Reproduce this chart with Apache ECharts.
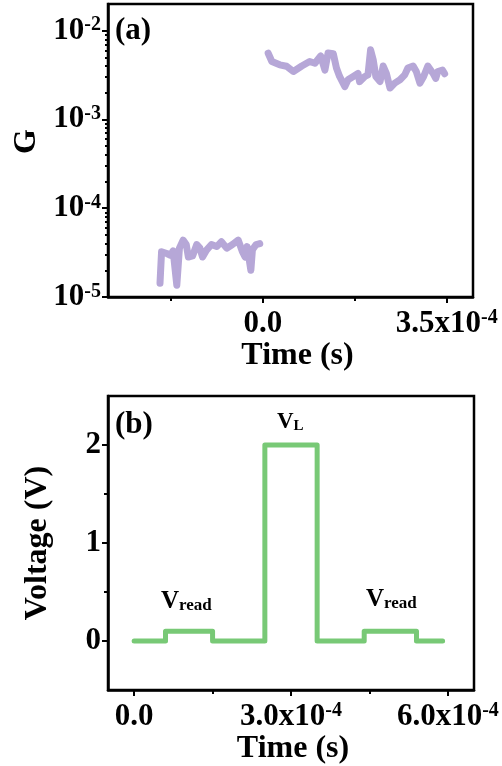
<!DOCTYPE html>
<html>
<head>
<meta charset="utf-8">
<script src="https://cdn.jsdelivr.net/npm/echarts@6/dist/echarts.min.js"></script>
<style>
  html, body { margin: 0; padding: 0; background: #fff; }
  #chart { width: 502px; height: 766px; }
</style>
</head>
<body>
<div id="chart"></div>
<script>
// Panel (a): conductance G versus time, before (t < 0) and after (t > 0) the pulse
const timeBefore = [-1.96e-4, -1.93e-4, -1.83e-4, -1.76e-4, -1.71e-4, -1.64e-4, -1.59e-4, -1.52e-4, -1.46e-4, -1.42e-4,
  -1.34e-4, -1.26e-4, -1.20e-4, -1.15e-4, -1.07e-4, -0.98e-4, -0.88e-4, -0.79e-4, -0.69e-4, -0.58e-4,
  -0.47e-4, -0.39e-4, -0.34e-4, -0.30e-4, -0.23e-4, -0.20e-4, -0.13e-4, -0.06e-4];
const gBefore = [1.43e-5, 3.24e-5, 3.09e-5, 2.95e-5, 3.31e-5, 1.36e-5, 3.55e-5, 4.37e-5, 3.9e-5, 2.82e-5,
  2.9e-5, 3.9e-5, 3.55e-5, 2.82e-5, 3.4e-5, 3.9e-5, 3.7e-5, 4.2e-5, 3.55e-5, 3.9e-5,
  4.37e-5, 3.24e-5, 2.82e-5, 3.7e-5, 2.0e-5, 3.4e-5, 3.9e-5, 4.0e-5];

const timeAfter = [0.10e-4, 0.17e-4, 0.32e-4, 0.45e-4, 0.58e-4, 0.74e-4, 0.89e-4, 0.99e-4, 1.10e-4, 1.18e-4,
  1.24e-4, 1.34e-4, 1.40e-4, 1.46e-4, 1.56e-4, 1.62e-4, 1.72e-4, 1.81e-4, 1.84e-4, 1.94e-4,
  2.00e-4, 2.05e-4, 2.10e-4, 2.15e-4, 2.23e-4, 2.29e-4, 2.35e-4, 2.42e-4, 2.51e-4, 2.61e-4,
  2.70e-4, 2.76e-4, 2.86e-4, 2.92e-4, 2.99e-4, 3.06e-4, 3.14e-4, 3.24e-4, 3.29e-4, 3.33e-4,
  3.42e-4, 3.46e-4];
const gAfter = [5.58e-3, 4.5e-3, 4.13e-3, 3.98e-3, 3.47e-3, 4.0e-3, 4.5e-3, 4.3e-3, 5.2e-3, 3.6e-3,
  5.6e-3, 5.5e-3, 3.8e-3, 3.05e-3, 2.35e-3, 2.8e-3, 3.05e-3, 3.3e-3, 2.67e-3, 3.05e-3,
  3.18e-3, 6.1e-3, 4.7e-3, 3.05e-3, 2.67e-3, 4.0e-3, 3.3e-3, 2.26e-3, 2.57e-3, 2.8e-3,
  3.18e-3, 3.8e-3, 4.0e-3, 3.47e-3, 2.57e-3, 3.05e-3, 4.0e-3, 3.3e-3, 2.9e-3, 3.47e-3,
  3.6e-3, 3.27e-3];

const timeTicksA = [-1.75e-4, 0, 1.75e-4, 3.5e-4];
const timeLabelsA = [0, 3.5e-4];
const gLabels = [1e-5, 1e-4, 1e-3, 1e-2];
const gMinorSteps = [2, 3, 4, 5, 6, 7, 8, 9];

// Panel (b): applied voltage pulse sequence (level holds until the next time)
const pulseTime = [0, 0.6e-4, 1.5e-4, 2.5e-4, 3.5e-4, 4.4e-4, 5.4e-4, 5.9e-4];
const pulseVolt = [0, 0.1, 0, 2, 0, 0.1, 0, 0];

const timeTicksB = [0, 1.5e-4, 3.0e-4, 4.5e-4, 6.0e-4];
const timeLabelsB = [0, 3.0e-4, 6.0e-4];
const voltLabels = [0, 1, 2];
const voltMinor = [0.5, 1.5];

const FONT = 'Liberation Serif';
const PURPLE = '#b6a7d7';
const GREEN = '#78c976';

const zip = (xs, ys) => xs.map((x, i) => [x, ys[i]]);
const majorOf = (all, labelled) => all.filter(v => labelled.indexOf(v) >= 0);
const minorOf = (all, labelled) => all.filter(v => labelled.indexOf(v) < 0);
// minor log ticks: 2..9 within every labelled decade below the top one
const gMinor = [];
gLabels.slice(0, -1).forEach(d => gMinorSteps.forEach(k => gMinor.push(k * d)));

function sciLabel(v) {
  if (v === 0) return '0.0';
  const exp = Math.floor(Math.log10(Math.abs(v)) + 1e-9);
  const m = v / Math.pow(10, exp);
  return m.toFixed(1) + 'x10{sup|' + exp + '}';
}
function powLabel(v) {
  return '10{sup|' + Math.round(Math.log10(v)) + '}';
}

const labelText = { color: '#000', fontFamily: FONT, fontWeight: 'bold', fontSize: 31 };
const supStyle = { fontFamily: FONT, fontWeight: 'bold', fontSize: 20, color: '#000', verticalAlign: 'top', lineHeight: 20 };
const axisLineStyle = { show: true, onZero: false, lineStyle: { color: '#000', width: 2.5 } };
const hiddenLine = { show: false, onZero: false };
const nameStyle = { color: '#000', fontFamily: FONT, fontWeight: 'bold', fontSize: 32 };
const minorTickStyle = { show: true, length: 4, lineStyle: { color: '#000', width: 2 } };

const chart = echarts.init(document.getElementById('chart'), null, { renderer: 'canvas' });

chart.setOption({
  animation: false,
  backgroundColor: '#fff',
  grid: [
    { left: 108, right: 29, top: 4, height: 293, show: true, borderColor: '#000', borderWidth: 2.5, containLabel: false },
    { left: 108, right: 28, top: 396, height: 294, show: true, borderColor: '#000', borderWidth: 2.5, containLabel: false }
  ],
  xAxis: [
    {
      gridIndex: 0, type: 'value', position: 'bottom', min: -2.95e-4, max: 4.0e-4,
      axisLine: axisLineStyle,
      axisTick: { show: true, customValues: majorOf(timeTicksA, timeLabelsA), length: 6, lineStyle: { color: '#000', width: 2 } },
      axisLabel: Object.assign({ customValues: timeLabelsA, margin: 11, formatter: sciLabel, rich: { sup: supStyle } }, labelText),
      splitLine: { show: false },
      name: 'Time (s)', nameLocation: 'middle', nameGap: 43,
      nameTextStyle: Object.assign({ padding: [0, 0, 0, 14] }, nameStyle)
    },
    {
      gridIndex: 0, type: 'value', position: 'bottom', min: -2.95e-4, max: 4.0e-4,
      axisLine: hiddenLine,
      axisTick: Object.assign({ customValues: minorOf(timeTicksA, timeLabelsA) }, minorTickStyle),
      axisLabel: { show: false }, splitLine: { show: false }
    },
    {
      gridIndex: 1, type: 'value', position: 'bottom', min: -0.5e-4, max: 6.5e-4,
      axisLine: axisLineStyle,
      axisTick: { show: true, customValues: majorOf(timeTicksB, timeLabelsB), length: 6, lineStyle: { color: '#000', width: 2 } },
      axisLabel: Object.assign({ customValues: timeLabelsB, margin: 11, formatter: sciLabel, rich: { sup: supStyle } }, labelText),
      splitLine: { show: false },
      name: 'Time (s)', nameLocation: 'middle', nameGap: 37,
      nameTextStyle: Object.assign({ padding: [0, 0, 0, 4] }, nameStyle)
    },
    {
      gridIndex: 1, type: 'value', position: 'bottom', min: -0.5e-4, max: 6.5e-4,
      axisLine: hiddenLine,
      axisTick: Object.assign({ customValues: minorOf(timeTicksB, timeLabelsB) }, minorTickStyle),
      axisLabel: { show: false }, splitLine: { show: false }
    }
  ],
  yAxis: [
    {
      gridIndex: 0, type: 'log', position: 'left', min: 1e-5, max: 0.02,
      axisLine: axisLineStyle,
      axisTick: { show: true, customValues: gLabels, length: 6, lineStyle: { color: '#000', width: 2 } },
      axisLabel: Object.assign({ customValues: gLabels, margin: 7, formatter: powLabel, rich: { sup: supStyle } }, labelText),
      splitLine: { show: false },
      name: 'G', nameLocation: 'middle', nameGap: 64, nameRotate: 90,
      nameTextStyle: Object.assign({ padding: [0, 0, 0, 18] }, nameStyle)
    },
    {
      gridIndex: 0, type: 'log', position: 'left', min: 1e-5, max: 0.02,
      axisLine: hiddenLine,
      axisTick: { show: true, customValues: gMinor, length: 3, lineStyle: { color: '#000', width: 2 } },
      axisLabel: { show: false }, splitLine: { show: false }
    },
    {
      gridIndex: 1, type: 'value', position: 'left', min: -0.5, max: 2.5,
      axisLine: axisLineStyle,
      axisTick: { show: true, customValues: voltLabels, length: 6, lineStyle: { color: '#000', width: 2 } },
      axisLabel: Object.assign({ customValues: voltLabels, margin: 7 }, labelText),
      splitLine: { show: false },
      name: 'Voltage (V)', nameLocation: 'middle', nameGap: 54, nameRotate: 90,
      nameTextStyle: nameStyle
    },
    {
      gridIndex: 1, type: 'value', position: 'left', min: -0.5, max: 2.5,
      axisLine: hiddenLine,
      axisTick: Object.assign({ customValues: voltMinor }, minorTickStyle),
      axisLabel: { show: false }, splitLine: { show: false }
    }
  ],
  series: [
    {
      type: 'line', xAxisIndex: 0, yAxisIndex: 0, data: zip(timeBefore, gBefore),
      symbol: 'none', lineStyle: { color: PURPLE, width: 7, cap: 'round', join: 'round' }
    },
    {
      type: 'line', xAxisIndex: 0, yAxisIndex: 0, data: zip(timeAfter, gAfter),
      symbol: 'none', lineStyle: { color: PURPLE, width: 7, cap: 'round', join: 'round' }
    },
    {
      type: 'line', xAxisIndex: 2, yAxisIndex: 2, data: zip(pulseTime, pulseVolt), step: 'end',
      symbol: 'none', lineStyle: { color: GREEN, width: 5, cap: 'round', join: 'round' }
    }
  ],
  graphic: [
    { type: 'text', left: 115, top: 15, style: { text: '(a)', font: 'bold 31px "Liberation Serif"', fill: '#000' } },
    { type: 'text', left: 115, top: 409, style: { text: '(b)', font: 'bold 31px "Liberation Serif"', fill: '#000' } },
    {
      type: 'text', left: 277, top: 411,
      style: {
        text: 'V{sub|L}', fill: '#000', font: 'bold 23px "Liberation Serif"',
        rich: { sub: { fontFamily: FONT, fontWeight: 'bold', fontSize: 15, fill: '#000', verticalAlign: 'bottom' } }
      }
    },
    {
      type: 'text', left: 161, top: 589,
      style: {
        text: 'V{sub|read}', fill: '#000', font: 'bold 25px "Liberation Serif"',
        rich: { sub: { fontFamily: FONT, fontWeight: 'bold', fontSize: 17, fill: '#000', verticalAlign: 'bottom' } }
      }
    },
    {
      type: 'text', left: 366, top: 587,
      style: {
        text: 'V{sub|read}', fill: '#000', font: 'bold 25px "Liberation Serif"',
        rich: { sub: { fontFamily: FONT, fontWeight: 'bold', fontSize: 17, fill: '#000', verticalAlign: 'bottom' } }
      }
    }
  ]
});
</script>
</body>
</html>
